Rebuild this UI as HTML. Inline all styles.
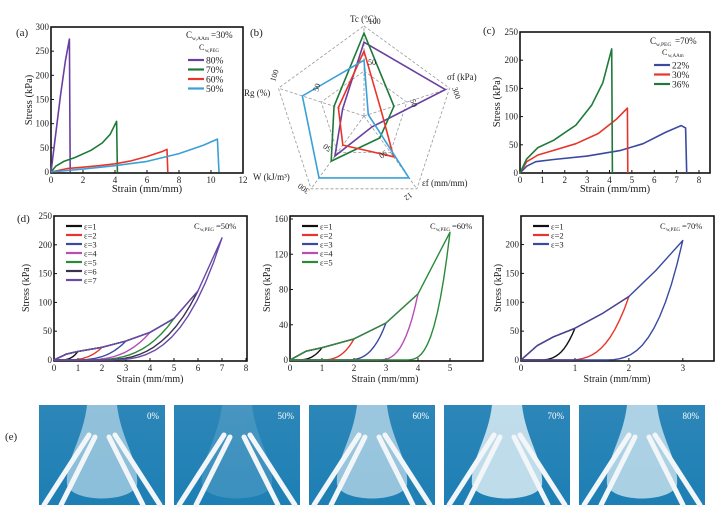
<!DOCTYPE html>
<html><head><meta charset="utf-8"><style>
html,body{margin:0;padding:0;background:#fff}
svg{display:block;font-family:"Liberation Serif",serif}
</style></head><body>
<svg id="fig" width="721" height="509" viewBox="0 0 721 509" xmlns="http://www.w3.org/2000/svg">
<defs>
<linearGradient id="bg" x1="0" y1="0" x2="0" y2="1"><stop offset="0" stop-color="#2d86b8"/><stop offset="1" stop-color="#1d7fb4"/></linearGradient>
</defs>
</svg>
<script>
// ---------- data ----------
const aSeries = ['80%','70%','60%','50%'];
const a80 = [[0,0],[0.3,80],[0.6,160],[0.9,230],[1.15,275],[1.2,0]];
const a70 = [[0,0],[0.3,12],[0.8,22],[1.5,30],[2.5,45],[3.2,60],[3.7,78],[4.1,105],[4.15,0]];
const a60 = [[0,0],[1,7],[2,10],[3,13],[4,17],[5,23],[6,32],[7,43],[7.25,47],[7.3,0]];
const a50 = [[0,0],[2,6],[4,13],[6,22],[8,38],[9.5,55],[10.4,68],[10.5,0]];
const aXTicks = [0,2,4,6,8,10,12];
const aYTicks = [0,50,100,150,200,250,300];

const radarAxes = ['Tc (°C)','σf (kPa)','εf (mm/mm)','W (kJ/m³)','Rg (%)'];
const r80 = [0.82,0.95,0.15,0.55,0.25];
const r70 = [0.92,0.35,0.30,0.62,0.35];
const r60 = [0.72,0.20,0.56,0.40,0.30];
const r50 = [0.62,0.05,0.85,0.85,0.72];

const cSeries = ['22%','30%','36%'];
const c22 = [[0,0],[0.3,12],[0.7,20],[1.5,24],[3,30],[4.5,40],[5.5,52],[6.5,72],[7.2,84],[7.4,80],[7.45,0]];
const c30 = [[0,0],[0.3,20],[0.8,32],[1.5,40],[2.5,52],[3.5,70],[4.3,95],[4.8,115],[4.82,0]];
const c36 = [[0,0],[0.3,25],[0.8,45],[1.5,58],[2.5,85],[3.2,120],[3.7,160],[4.1,220],[4.13,0]];
const cXTicks = [0,1,2,3,4,5,6,7,8];
const cYTicks = [0,50,100,150,200,250];

const d1Load = [[0,0],[0.5,10],[1,15],[2,22],[3,33],[4,48],[5,72],[6,120],[7,212]];
const d1Peaks = [1,2,3,4,5,6,7];
const d1Resid = [0.2,0.4,0.7,1.0,1.3,1.7,2.1];
const d2Load = [[0,0],[0.5,10],[1,14],[2,24],[3,42],[4,75],[5,145]];
const d2Peaks = [1,2,3,4,5];
const d2Resid = [0.15,0.9,1.7,2.7,3.6];
const d3Load = [[0,0],[0.3,25],[0.6,40],[1,55],[1.5,80],[2,110],[2.5,155],[3,207]];
const d3Peaks = [1,2,3];
const d3Resid = [0.3,0.8,1.5];
const photoLabels = ['0%','50%','60%','70%','80%'];

// ---------- helpers ----------
const NS='http://www.w3.org/2000/svg';
const svg=document.getElementById('fig');
function el(tag,attrs,parent){const e=document.createElementNS(NS,tag);for(const k in attrs)e.setAttribute(k,attrs[k]);(parent||svg).appendChild(e);return e;}
function txt(s,x,y,size,attrs,parent){const t=el('text',Object.assign({x:x,y:y,'font-size':size,fill:'#222'},attrs||{}),parent);t.textContent=s;return t;}
function mkAxes(name,bx0,bx1,by0,by1,xmin,xmax,ymin,ymax,px0,px1,py0,py1,xt,yt){
  const g=el('g',{});
  
  
  const sx=v=>px0+(v-xmin)/(xmax-xmin)*(px1-px0);
  const sy=v=>py0+(v-ymin)/(ymax-ymin)*(py1-py0);
  const f=el('rect',{x:bx0,y:by0,width:bx1-bx0,height:by1-by0,fill:'none',stroke:'#111','stroke-width':1.6},g);
  
  
  xt.forEach(v=>{const x=sx(v);el('line',{x1:x,x2:x,y1:by1,y2:by1-3,stroke:'#111'},g);
    const t=txt(String(v),x,by1+10,9,{'text-anchor':'middle'},g);
    
    });
  yt.forEach(v=>{const y=sy(v);el('line',{x1:bx0,x2:bx0+3,y1:y,y2:y,stroke:'#111'},g);
    const t=txt(String(v),bx0-2,y+3,9,{'text-anchor':'end'},g);
    
    });
  return {g,sx,sy};
}
function poly(ax,pts,color,name,w){
  const p=el('polyline',{points:pts.map(q=>ax.sx(q[0]).toFixed(1)+','+ax.sy(q[1]).toFixed(1)).join(' '),fill:'none',stroke:color,'stroke-width':w||1.6,'stroke-linejoin':'round'},ax.g);
  
  
  return p;
}
function interp(load,x){for(let i=1;i<load.length;i++){if(x<=load[i][0]){const a=load[i-1],b=load[i];return a[1]+(b[1]-a[1])*(x-a[0])/(b[0]-a[0]);}}return load[load.length-1][1];}
function loop(load,peak,res){
  const pts=load.filter(q=>q[0]<peak).map(q=>[q[0],q[1]]);
  const pv=interp(load,peak);pts.push([peak,pv]);
  for(let i=1;i<=14;i++){const t=1-i/14;const x=res+(peak-res)*t;pts.push([x,pv*Math.pow(t,3)]);}
  pts.push([0,0]);return pts;
}
function legend(g,x,y,dy,labels,colors,name,size){
  labels.forEach((l,i)=>{const yy=y+i*dy;
    const ln=el('line',{x1:x,x2:x+16,y1:yy,y2:yy,stroke:colors[i],'stroke-width':2.2},g);
    
    
    const t=txt(l,x+18,yy+3.5,size||9.5,{},g);
    
    });
}
function axisTitles(g,cx,yBottom,yx,ymid,size){
  const t1=txt('Strain (mm/mm)',cx,yBottom,size||10.5,{'text-anchor':'middle'},g);
  
  
  const t2=txt('Stress (kPa)',yx,ymid,size||10.5,{'text-anchor':'middle',transform:'rotate(-90 '+yx+' '+ymid+')'},g);
  
  
}
function panelLabel(s,x,y){const t=txt(s,x,y,11);
  
  }

// ---------- panel a ----------
panelLabel('(a)',16,36);
const A=mkAxes('panel-a',51,243,27,173,0,12,0,300,51,243,172,27,aXTicks,aYTicks);
const aCols=['#6b3fa0','#1f7a3a','#e8352a','#3aa0d8'];
[a80,a70,a60,a50].forEach((s,i)=>poly(A,s,aCols[i],'line-a-'+aSeries[i]));
txt('C',186,38,9,{},A.g);txt('w,AAm',192,40,5.5,{},A.g);txt('=30%',211,38,9,{},A.g);
txt('C',199,50,8,{},A.g);txt('w,PEG',205,52,5,{},A.g);
legend(A.g,188,60,9.5,aSeries,aCols,'legend-a');
axisTitles(A.g,147,192,32,100);

// ---------- panel b radar ----------
panelLabel('(b)',250,36);
const R=el('g',{});


const cx=364,cy=116,RR=90;
const ang=i=>(-90+72*i)*Math.PI/180;
const rp=(i,f)=>[cx+RR*f*Math.cos(ang(i)),cy+RR*f*Math.sin(ang(i))];
[0.5,1].forEach(f=>{el('polygon',{points:[0,1,2,3,4].map(i=>rp(i,f).join(',')).join(' '),fill:'none',stroke:'#999','stroke-dasharray':'3,2','stroke-width':0.8},R);});
[0,1,2,3,4].forEach(i=>{const p=rp(i,1);el('line',{x1:cx,y1:cy,x2:p[0],y2:p[1],stroke:'#999','stroke-dasharray':'3,2','stroke-width':0.8},R);});
const rCols=['#6b3fa0','#1f7a3a','#e8352a','#3aa0d8'];
[r80,r70,r60,r50].forEach((s,k)=>{const pg=el('polygon',{points:s.map((f,i)=>rp(i,f).join(',')).join(' '),fill:'none',stroke:rCols[k],'stroke-width':1.6},R);
  
  });
const rl=[[350,22,'Tc (°C)'],[447,80,'σf (kPa)'],[422,186,'εf (mm/mm)'],[253,180,'W (kJ/m³)'],[244,96,'Rg (%)']];
rl.forEach(l=>{const t=txt(l[2],l[0],l[1],9,{},R);
  
  });
txt('-100',366,24,8,{},R);txt('50',368,65,8,{},R);txt('300',452,88,8,{transform:'rotate(72 452 88)'},R);
txt('50',410,100,8,{transform:'rotate(72 410 100)'},R);txt('12',410,192,8,{transform:'rotate(144 410 192)'},R);
txt('50',385,150,8,{transform:'rotate(144 385 150)'},R);txt('300',310,190,8,{transform:'rotate(216 310 190)'},R);
txt('50',332,148,8,{transform:'rotate(216 332 148)'},R);txt('100',275,82,8,{transform:'rotate(-72 275 82)'},R);
txt('50',318,92,8,{transform:'rotate(-72 318 92)'},R);

// ---------- panel c ----------
panelLabel('(c)',483,34);
const C=mkAxes('panel-c',520,710,32,173,0,8,0,250,520,699,173,32,cXTicks,cYTicks);
const cCols=['#3a4aa0','#e8352a','#1f7a3a'];
[c22,c30,c36].forEach((s,i)=>poly(C,s,cCols[i],'line-c-'+cSeries[i]));
txt('C',650,44,9,{},C.g);txt('w,PEG',656,46,5.5,{},C.g);txt('=70%',675,44,9,{},C.g);
txt('C',662,55,8,{},C.g);txt('w,AAm',668,57,5,{},C.g);
legend(C.g,654,65,9.5,cSeries,cCols,'legend-c');
axisTitles(C.g,615,192,500,102);

// ---------- panel d ----------
panelLabel('(d)',17,222);
const dCols=['#111','#e8352a','#3a4aa0','#b84db8','#2a8a3a','#3a3050','#6a4aa8'];
const D1=mkAxes('panel-d1',54,247,216,361,0,8,0,250,54,246,360,216,[0,1,2,3,4,5,6,7,8],[0,50,100,150,200,250]);
d1Peaks.forEach((p,i)=>poly(D1,loop(d1Load,p,d1Resid[i]),dCols[i],'loop-d1-eps'+p,1.4));
legend(D1.g,66,226,9,d1Peaks.map(p=>'ε='+p),dCols,'legend-d1',8.5);
txt('C',194,229,8.5,{},D1.g);txt('w,PEG',200,231,5,{},D1.g);txt('=50%',216,229,8.5,{},D1.g);
axisTitles(D1.g,150,382,29,288,10);

const d2Cols=['#111','#e8352a','#3a4aa0','#b84db8','#2a8a3a'];
const D2=mkAxes('panel-d2',290,483,216,361,0,5.5,0,160,290,483-17,360,219,[0,1,2,3,4,5],[0,40,80,120,160]);
d2Peaks.forEach((p,i)=>poly(D2,loop(d2Load,p,d2Resid[i]),d2Cols[i],'loop-d2-eps'+p,1.4));
legend(D2.g,302,226,9,d2Peaks.map(p=>'ε='+p),d2Cols,'legend-d2',8.5);
txt('C',430,229,8.5,{},D2.g);txt('w,PEG',436,231,5,{},D2.g);txt('=60%',452,229,8.5,{},D2.g);
axisTitles(D2.g,385,382,270,288,10);

const d3Cols=['#111','#e8352a','#3a4aa0'];
const D3=mkAxes('panel-d3',521,714,216,361,0,3.3,0,220,521,699,360,233,[0,1,2,3],[0,50,100,150,200]);
d3Peaks.forEach((p,i)=>poly(D3,loop(d3Load,p,d3Resid[i]),d3Cols[i],'loop-d3-eps'+p,1.4));
legend(D3.g,533,226,9,d3Peaks.map(p=>'ε='+p),d3Cols,'legend-d3',8.5);
txt('C',660,229,8.5,{},D3.g);txt('w,PEG',666,231,5,{},D3.g);txt('=70%',682,229,8.5,{},D3.g);
axisTitles(D3.g,617,382,501,288,10);

// ---------- panel e photos ----------
panelLabel('(e)',5,440);
const px=[39,174,309,444,579];
const blobs=[0.55,0.15,0.6,0.8,0.7];
photoLabels.forEach((l,i)=>{
  const g=el('g',{});
  
  
  const x=px[i],y=405,w=126,h=100;
  el('rect',{x:x,y:y,width:w,height:h,fill:'url(#bg)'},g);
  const o=blobs[i];
  el('path',{d:`M${x+48} ${y} L${x+78} ${y} C${x+82} ${y+35} ${x+100} ${y+55} ${x+98} ${y+80} C${x+92} ${y+98} ${x+34} ${y+98} ${x+28} ${y+80} C${x+26} ${y+55} ${x+44} ${y+35} ${x+48} ${y} Z`,fill:'#e6f2f8','fill-opacity':o},g);
  [[x+50,y+30,x+5,y+h],[x+56,y+32,x+22,y+h],[x+70,y+32,x+104,y+h],[x+76,y+30,x+121,y+h]].forEach(s=>{
    el('line',{x1:s[0],y1:s[1],x2:s[2],y2:s[3],stroke:'#f2f6f8','stroke-width':5,'stroke-linecap':'round'},g);});
  txt(l,x+w-6,y+14,9,{'text-anchor':'end',fill:'#fff'},g);
});
</script>
</body></html>
